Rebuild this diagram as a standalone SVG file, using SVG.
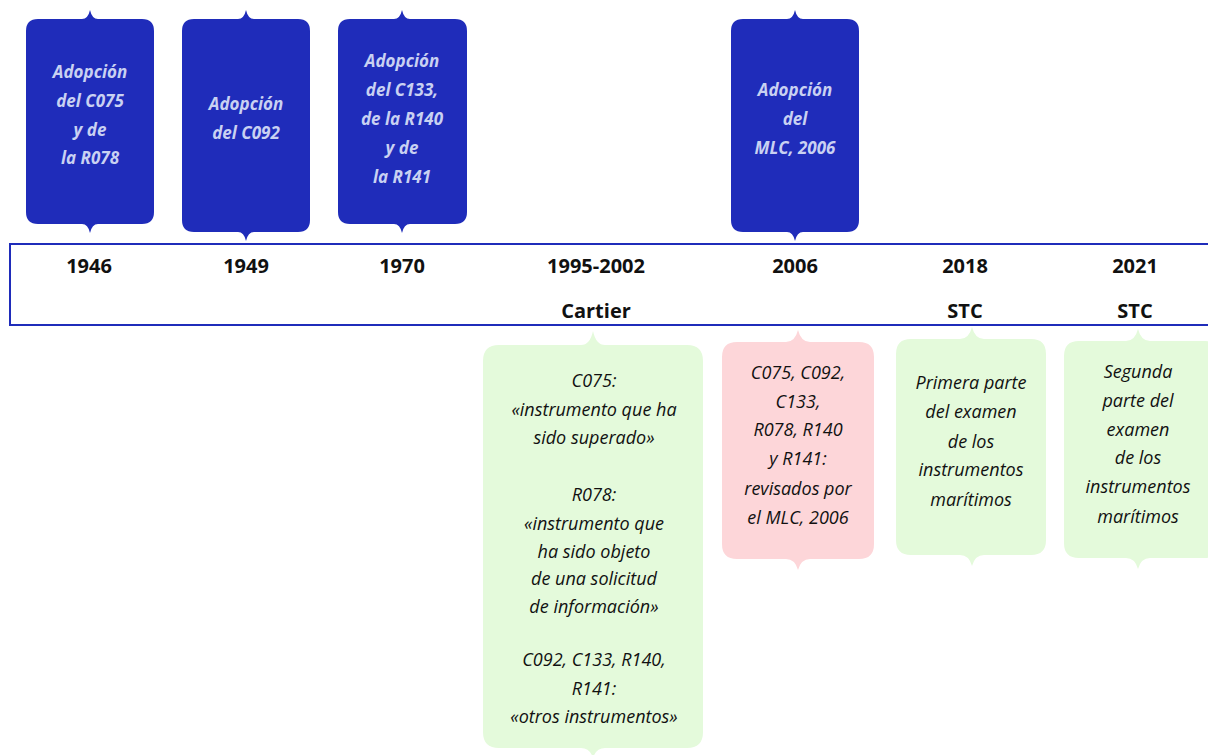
<svg xmlns="http://www.w3.org/2000/svg" width="1208" height="755" viewBox="0 0 1208 755">
<style>
.blue{fill:#1f2cba}
.green{fill:#e4fadb}
.pink{fill:#fdd6d9}
.bt{font-family:"Open Sans","Liberation Sans",sans-serif;font-size:17px;font-weight:bold;font-style:italic;fill:#c9d1f2;text-anchor:middle}
.gt{font-family:"Open Sans","Liberation Sans",sans-serif;font-size:18px;font-style:italic;fill:#111;text-anchor:middle}
.yt{font-family:"Open Sans","Liberation Sans",sans-serif;font-size:20px;font-weight:bold;fill:#111;text-anchor:middle}
</style>
<rect width="1208" height="755" fill="#fff"/>
<g id="timeline">
<rect x="10" y="244" width="1210" height="81" fill="none" stroke="#1f2cba" stroke-width="2"/>
<text class="yt" x="89" y="273">1946</text>
<text class="yt" x="246" y="273">1949</text>
<text class="yt" x="402" y="273">1970</text>
<text class="yt" x="596" y="273">1995-2002</text>
<text class="yt" x="795" y="273">2006</text>
<text class="yt" x="965" y="273">2018</text>
<text class="yt" x="1135" y="273">2021</text>
<text class="yt" x="596" y="318">Cartier</text>
<text class="yt" x="965" y="318">STC</text>
<text class="yt" x="1135" y="318">STC</text>
</g>
<g id="n1946">
<path class="blue" d="M38,19 H82 Q88,19 90,10 Q92,19 98,19 H142 Q154,19 154,31 V212 Q154,224 142,224 H98 Q92,224 90,233 Q88,224 82,224 H38 Q26,224 26,212 V31 Q26,19 38,19 Z"/>
<text class="bt" x="90" y="78">Adopción</text>
<text class="bt" x="90" y="107">del C075</text>
<text class="bt" x="90" y="136">y de</text>
<text class="bt" x="90" y="164">la R078</text>
</g>
<g id="n1949">
<path class="blue" d="M194,19 H238 Q244,19 246,10 Q248,19 254,19 H298 Q310,19 310,31 V220 Q310,232 298,232 H254 Q248,232 246,241 Q244,232 238,232 H194 Q182,232 182,220 V31 Q182,19 194,19 Z"/>
<text class="bt" x="246" y="110">Adopción</text>
<text class="bt" x="246" y="139">del C092</text>
</g>
<g id="n1970">
<path class="blue" d="M350,19 H394 Q400,19 402,10 Q404,19 410,19 H455 Q467,19 467,31 V212 Q467,224 455,224 H410 Q404,224 402,233 Q400,224 394,224 H350 Q338,224 338,212 V31 Q338,19 350,19 Z"/>
<text class="bt" x="402" y="67">Adopción</text>
<text class="bt" x="402" y="96">del C133,</text>
<text class="bt" x="402" y="125">de la R140</text>
<text class="bt" x="402" y="154">y de</text>
<text class="bt" x="402" y="183">la R141</text>
</g>
<g id="n2006top">
<path class="blue" d="M743,19 H787 Q793,19 795,10 Q797,19 803,19 H847 Q859,19 859,31 V220 Q859,232 847,232 H803 Q797,232 795,241 Q793,232 787,232 H743 Q731,232 731,220 V31 Q731,19 743,19 Z"/>
<text class="bt" x="795" y="96">Adopción</text>
<text class="bt" x="795" y="125">del</text>
<text class="bt" x="795" y="154">MLC, 2006</text>
</g>
<g id="nCartier">
<path class="green" d="M499,345 H581 Q590,345 593,331 Q596,345 605,345 H687 Q703,345 703,361 V732 Q703,748 687,748 H605 Q596,748 593,758 Q590,748 581,748 H499 Q483,748 483,732 V361 Q483,345 499,345 Z"/>
<text class="gt" x="594" y="387">C075:</text>
<text class="gt" x="594" y="416">«instrumento que ha</text>
<text class="gt" x="594" y="444">sido superado»</text>
<text class="gt" x="594" y="501">R078:</text>
<text class="gt" x="594" y="530">«instrumento que</text>
<text class="gt" x="594" y="558">ha sido objeto</text>
<text class="gt" x="594" y="585">de una solicitud</text>
<text class="gt" x="594" y="613">de información»</text>
<text class="gt" x="594" y="666">C092, C133, R140,</text>
<text class="gt" x="594" y="695">R141:</text>
<text class="gt" x="594" y="723">«otros instrumentos»</text>
</g>
<g id="n2006bottom">
<path class="pink" d="M737,342 H786 Q795,342 798,330 Q801,342 810,342 H859 Q874,342 874,357 V544 Q874,559 859,559 H810 Q801,559 798,570 Q795,559 786,559 H737 Q722,559 722,544 V357 Q722,342 737,342 Z"/>
<text class="gt" x="798" y="379">C075, C092,</text>
<text class="gt" x="798" y="408">C133,</text>
<text class="gt" x="798" y="436">R078, R140</text>
<text class="gt" x="798" y="465">y R141:</text>
<text class="gt" x="798" y="495">revisados por</text>
<text class="gt" x="798" y="524">el MLC, 2006</text>
</g>
<g id="n2018">
<path class="green" d="M911,339 H960 Q969,339 972,327 Q975,339 984,339 H1031 Q1046,339 1046,354 V540 Q1046,555 1031,555 H984 Q975,555 972,566 Q969,555 960,555 H911 Q896,555 896,540 V354 Q896,339 911,339 Z"/>
<text class="gt" x="971" y="389">Primera parte</text>
<text class="gt" x="971" y="418">del examen</text>
<text class="gt" x="971" y="448">de los</text>
<text class="gt" x="971" y="476">instrumentos</text>
<text class="gt" x="971" y="506">marítimos</text>
</g>
<g id="n2021">
<path class="green" d="M1079,341 H1126 Q1135,341 1138,329 Q1141,341 1150,341 H1205 Q1220,341 1220,356 V543 Q1220,558 1205,558 H1150 Q1141,558 1138,569 Q1135,558 1126,558 H1079 Q1064,558 1064,543 V356 Q1064,341 1079,341 Z"/>
<text class="gt" x="1138" y="378">Segunda</text>
<text class="gt" x="1138" y="407">parte del</text>
<text class="gt" x="1138" y="436">examen</text>
<text class="gt" x="1138" y="464">de los</text>
<text class="gt" x="1138" y="493">instrumentos</text>
<text class="gt" x="1138" y="523">marítimos</text>
</g>
</svg>
